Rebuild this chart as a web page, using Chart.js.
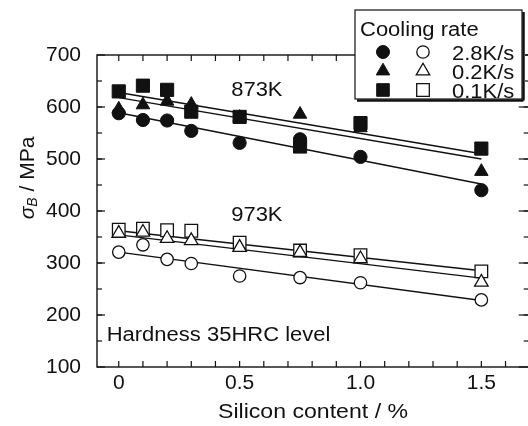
<!DOCTYPE html>
<html>
<head>
<meta charset="utf-8">
<script src="https://cdn.jsdelivr.net/npm/chart.js@4.4.1/dist/chart.umd.min.js"></script>
<style>
  html, body { margin: 0; padding: 0; background: #fff; overflow: hidden; }
  #wrap { width: 528px; height: 426px; overflow: hidden; }
</style>
</head>
<body>
<div id="wrap"><canvas id="c" width="540" height="426"></canvas></div>
<script>
  // silicon content (%) of the tested steels
  var siContent = [0, 0.1, 0.2, 0.3, 0.5, 0.75, 1.0, 1.5];

  // tensile strength (MPa), tempered at 873K (filled marks)
  var t873Rate28 = [588, 575, 574, 554, 531, 538, 504, 440];
  var t873Rate02 = [596, 604, 611, 605, 580, 586, 560, 476];
  var t873Rate01 = [630, 641, 633, 591, 581, 524, 569, 520];

  // tempered at 973K (open marks)
  var t973Rate28 = [321, 335, 307, 299, 275, 272, 262, 229];
  var t973Rate02 = [357, 359, 347, 343, 330, 320, 308, 263];
  var t973Rate01 = [364, 366, 363, 362, 339, 324, 315, 284];

  // fitted lines, read at 0 and 1.5 % Si
  var fitX = [0, 1.5];
  var fit873Rate28 = [589, 452];
  var fit873Rate02 = [618, 500];
  var fit873Rate01 = [628, 510];
  var fit973Rate28 = [321, 228];
  var fit973Rate02 = [354, 271];
  var fit973Rate01 = [362, 285];

  var xLabelTicks = [0, 0.5, 1, 1.5];
  var xSmallTicks = [0, 0.1, 0.2, 0.3, 0.4, 0.5, 0.6, 0.7, 0.8, 0.9, 1.0, 1.1, 1.2, 1.3, 1.4, 1.5, 1.6];
  var ySmallTicks = [150, 200, 250, 300, 350, 400, 450, 500, 550, 600, 650];

  var ink = '#111';
  var font = '"Liberation Sans", Arial, sans-serif';
  var stretch = 1.1; // the scanned lettering is a bit wider than Arial

  function pts(xs, ys) {
    return xs.map(function (v, i) { return { x: v, y: ys[i] }; });
  }

  function marks(ys, style, filled, r) {
    return {
      type: 'scatter',
      data: pts(siContent, ys),
      pointStyle: style,
      pointRadius: r,
      pointHoverRadius: r,
      backgroundColor: filled ? ink : '#fff',
      borderColor: ink,
      borderWidth: filled ? 1 : 1.3,
      order: 0
    };
  }

  function fit(ys) {
    return {
      type: 'line',
      data: pts(fitX, ys),
      borderColor: ink,
      borderWidth: 1.4,
      pointRadius: 0,
      fill: false,
      order: 1
    };
  }

  function line(ctx, x1, y1, x2, y2) {
    ctx.beginPath();
    ctx.moveTo(x1, y1);
    ctx.lineTo(x2, y2);
    ctx.stroke();
  }

  // left-aligned text, widened a little
  function text(ctx, s, x, y) {
    ctx.save();
    ctx.translate(x, y);
    ctx.scale(stretch, 1);
    ctx.fillText(s, 0, 0);
    ctx.restore();
  }

  function mark(ctx, style, filled, x, y) {
    ctx.save();
    ctx.fillStyle = filled ? ink : '#fff';
    ctx.strokeStyle = ink;
    ctx.lineWidth = filled ? 1 : 1.3;
    ctx.beginPath();
    if (style === 'circle') {
      ctx.arc(x, y, filled ? 6.5 : 6.2, 0, Math.PI * 2);
    } else if (style === 'triangle') {
      var r = 7.8;
      ctx.moveTo(x, y - r);
      ctx.lineTo(x + r * 0.866, y + r * 0.5);
      ctx.lineTo(x - r * 0.866, y + r * 0.5);
      ctx.closePath();
    } else {
      ctx.rect(x - 6.3, y - 6.3, 12.6, 12.6);
    }
    ctx.fill();
    ctx.stroke();
    ctx.restore();
  }

  var frame = {
    id: 'frame',
    afterDatasetsDraw: function (chart) {
      var ctx = chart.ctx, a = chart.chartArea;
      var x = chart.scales.x, y = chart.scales.y;
      ctx.save();
      ctx.strokeStyle = ink;
      ctx.lineWidth = 1.4;
      ctx.strokeRect(a.left, a.top, a.right - a.left, a.bottom - a.top);

      ctx.lineWidth = 1.2;
      xSmallTicks.forEach(function (v) {
        var px = x.getPixelForValue(v);
        line(ctx, px, a.bottom, px, a.bottom - 6);
        line(ctx, px, a.top, px, a.top + 6);
      });
      y.ticks.forEach(function (t) {
        var py = y.getPixelForValue(t.value);
        line(ctx, a.left, py, a.left + 8, py);
        line(ctx, a.right, py, a.right - 11, py);
      });
      ySmallTicks.forEach(function (v) {
        var py = y.getPixelForValue(v);
        line(ctx, a.left, py, a.left + 5, py);
        line(ctx, a.right, py, a.right - 6, py);
      });

      // text inside the plot
      ctx.fillStyle = ink;
      ctx.font = '20px ' + font;
      ctx.textAlign = 'left';
      ctx.textBaseline = 'middle';
      text(ctx, '873K', x.getPixelForValue(0.465), y.getPixelForValue(631));
      text(ctx, '973K', x.getPixelForValue(0.465), y.getPixelForValue(392));
      text(ctx, 'Hardness 35HRC level', x.getPixelForValue(-0.05), y.getPixelForValue(160));

      // axis titles
      ctx.font = '21px ' + font;
      var tw = ctx.measureText('Silicon content / %').width * stretch;
      text(ctx, 'Silicon content / %', 313 - tw / 2, 412);

      ctx.save();
      ctx.translate(28, 178);
      ctx.rotate(-Math.PI / 2);
      ctx.textAlign = 'left';
      ctx.font = 'italic 21px ' + font;
      var w1 = ctx.measureText('\u03C3').width;
      ctx.font = 'italic 14px ' + font;
      var w2 = ctx.measureText('B').width;
      ctx.font = '21px ' + font;
      var w3 = ctx.measureText(' / MPa').width;
      var sx = -(w1 + w2 + w3) / 2;
      ctx.font = 'italic 21px ' + font;
      ctx.fillText('\u03C3', sx, 0);
      ctx.font = 'italic 14px ' + font;
      ctx.fillText('B', sx + w1, 5);
      ctx.font = '21px ' + font;
      ctx.fillText(' / MPa', sx + w1 + w2, 0);
      ctx.restore();

      // legend box
      var bx = 355, by = 10, bw = 167, bh = 89;
      ctx.fillStyle = '#fff';
      ctx.fillRect(bx, by, bw + 3, bh + 3);
      ctx.lineWidth = 1.2;
      ctx.strokeRect(bx, by, bw, bh);
      ctx.lineWidth = 2.5;
      line(ctx, bx + bw + 1.5, by + 2, bx + bw + 1.5, by + bh + 1.5);
      line(ctx, bx + 2, by + bh + 1.5, bx + bw + 1.5, by + bh + 1.5);

      ctx.fillStyle = ink;
      ctx.font = '20px ' + font;
      ctx.textAlign = 'left';
      ctx.textBaseline = 'middle';
      text(ctx, 'Cooling rate', 360, 30);
      var rows = [['circle', '2.8K/s', 54], ['triangle', '0.2K/s', 73], ['rect', '0.1K/s', 92]];
      rows.forEach(function (r) {
        mark(ctx, r[0], true, 383, r[2] - 2);
        mark(ctx, r[0], false, 423, r[2] - 2);
        ctx.fillStyle = ink;
        text(ctx, r[1], 452, r[2]);
      });
      ctx.restore();
    }
  };

  Chart.defaults.font.family = font;
  Chart.defaults.color = ink;

  new Chart(document.getElementById('c'), {
    type: 'scatter',
    data: {
      datasets: [
        marks(t973Rate28, 'circle', false, 6.2),
        marks(t973Rate02, 'triangle', false, 7.8),
        marks(t973Rate01, 'rect', false, 8.9),
        marks(t873Rate01, 'rect', true, 9.3),
        marks(t873Rate02, 'triangle', true, 7.8),
        marks(t873Rate28, 'circle', true, 6.6),
        fit(fit873Rate28),
        fit(fit873Rate02),
        fit(fit873Rate01),
        fit(fit973Rate28),
        fit(fit973Rate02),
        fit(fit973Rate01)
      ]
    },
    options: {
      responsive: false,
      animation: false,
      layout: { padding: { left: 0, top: 55, right: 7.4, bottom: 0 } },
      plugins: { legend: { display: false }, tooltip: { enabled: false } },
      scales: {
        x: {
          type: 'linear',
          min: -0.09,
          max: 1.7,
          grid: { display: false, drawTicks: false },
          border: { display: false },
          afterBuildTicks: function (s) {
            s.ticks = xLabelTicks.map(function (v) { return { value: v }; });
          },
          afterFit: function (s) { s.height = 59; },
          ticks: { font: { size: 21 }, padding: 4, maxRotation: 0, autoSkip: false }
        },
        y: {
          min: 100,
          max: 700,
          grid: { display: false, drawTicks: false },
          border: { display: false },
          afterFit: function (s) { s.width = 97; },
          ticks: { stepSize: 100, font: { size: 21 }, padding: 16 }
        }
      }
    },
    plugins: [frame]
  });
</script>
</body>
</html>
